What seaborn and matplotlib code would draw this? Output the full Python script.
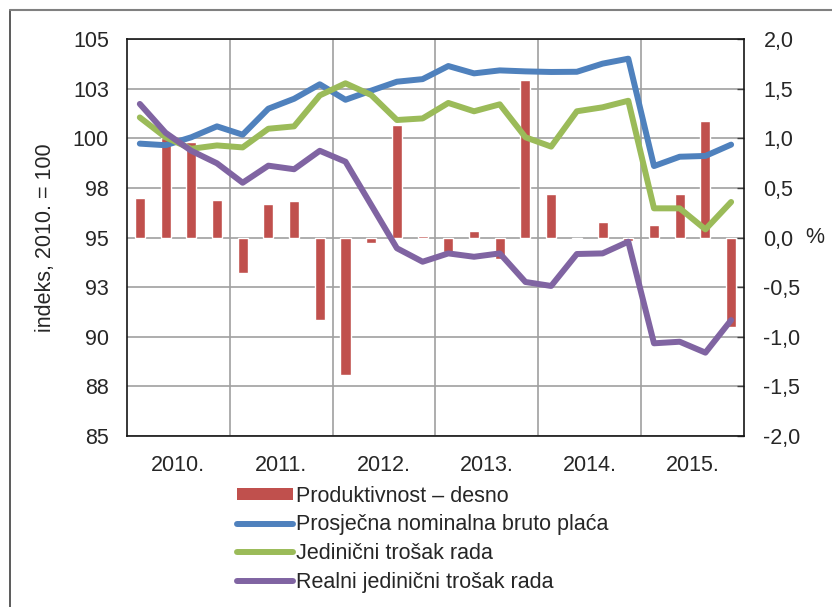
import numpy as np
import pandas as pd
import matplotlib
matplotlib.use("Agg")
import matplotlib.pyplot as plt
from matplotlib.lines import Line2D
from matplotlib.patches import Patch
import matplotlib.ticker as mticker
import seaborn as sns

# Quarterly data 2010 Q1 - 2015 Q4
years = ["2010.", "2011.", "2012.", "2013.", "2014.", "2015."]
quarters = [f"{y}Q{q}" for y in years for q in range(1, 5)]

produktivnost = [0.40, 1.00, 0.96, 0.38, -0.36, 0.34, 0.37, -0.83,
                 -1.39, -0.06, 1.13, 0.02, -0.15, 0.07, -0.22, 1.59,
                 0.44, -0.01, 0.16, -0.04, 0.13, 0.44, 1.17, -0.90]
placa = [99.73, 99.65, 100.05, 100.60, 100.18, 101.49, 101.99, 102.72,
         101.94, 102.40, 102.85, 102.98, 103.64, 103.27, 103.42, 103.37,
         103.34, 103.35, 103.76, 104.01, 98.60, 99.07, 99.11, 99.68]
trosak = [101.05, 100.05, 99.47, 99.64, 99.54, 100.48, 100.60, 102.16,
          102.77, 102.18, 100.92, 101.00, 101.78, 101.36, 101.71, 100.05,
          99.58, 101.36, 101.56, 101.89, 96.47, 96.47, 95.41, 96.79]
realni = [101.73, 100.28, 99.37, 98.74, 97.76, 98.62, 98.44, 99.37,
          98.82, 96.64, 94.46, 93.78, 94.20, 94.03, 94.20, 92.76,
          92.56, 94.17, 94.20, 94.79, 89.67, 89.75, 89.20, 90.84]

labels = ["Produktivnost – desno", "Prosječna nominalna bruto plaća",
          "Jedinični trošak rada", "Realni jedinični trošak rada"]
colors = ["#C0504D", "#4F81BD", "#9BBB59", "#8064A2"]

df = pd.DataFrame({"kvartal": quarters, "produktivnost": produktivnost,
                   "placa": placa, "trosak": trosak, "realni": realni})
df["pos"] = np.arange(len(df))

sns.set_theme(style="white")
plt.rcParams["font.family"] = ["Liberation Sans", "DejaVu Sans"]
FS = 15.5
plt.rcParams["font.size"] = FS

fig = plt.figure(figsize=(8.32, 6.07), dpi=100)
ax = fig.add_axes([0.1526, 0.2817, 0.7416, 0.654])

# bars on the right-hand axis (drawn behind)
sns.barplot(data=df, x="kvartal", y="produktivnost", color=colors[0],
            width=0.39, errorbar=None, saturation=1, ax=ax)
ax.set_ylim(-2, 2)
ax.set_xlim(-0.5, 23.5)
ax.set_xticks([1.5, 5.5, 9.5, 13.5, 17.5, 21.5])
ax.set_xticklabels(years)
ax.set_xticks([3.5, 7.5, 11.5, 15.5, 19.5], minor=True)
ax.tick_params(axis="x", which="both", length=0, pad=14, labelsize=FS)
ax.grid(True, axis="y", which="major", color="#A0A0A0", lw=1.2)
ax.grid(True, axis="x", which="minor", color="#A0A0A0", lw=1.2)
ax.grid(False, axis="x", which="major")
ax.set_xlabel("")
ax.set_ylabel("")
for s in ax.spines.values():
    s.set_color("#151515")
    s.set_linewidth(1.2)

# lines on the left-hand axis
ax2 = ax.twinx()
for col, c in zip(["placa", "trosak", "realni"], colors[1:]):
    sns.lineplot(data=df, x="pos", y=col, color=c, lw=4.3, ax=ax2,
                 legend=False, solid_capstyle="round", solid_joinstyle="round")
ax2.set_ylim(85, 105)
ax2.set_xlim(-0.5, 23.5)
ax2.yaxis.tick_left()
ax2.yaxis.set_label_position("left")
ax2.yaxis.set_major_locator(mticker.MultipleLocator(2.5))
ax2.yaxis.set_major_formatter(mticker.FuncFormatter(
    lambda v, p: f"{int(np.floor(v + 0.5))}"))
ax2.tick_params(axis="y", left=True, right=False, labelleft=True,
                labelright=False, length=0, pad=13, labelsize=FS)
ax2.set_ylabel("indeks, 2010. = 100", fontsize=FS, labelpad=12)
ax2.set_xlabel("")
ax2.grid(False)
for s in ax2.spines.values():
    s.set_visible(False)

# right-hand axis ticks for the bars (after twinx)
ax.yaxis.set_major_locator(mticker.MultipleLocator(0.5))
ax.yaxis.set_major_formatter(mticker.FuncFormatter(
    lambda v, p: f"{v:.1f}".replace(".", ",").replace("-0,0", "0,0")))
ax.tick_params(axis="y", left=False, labelleft=False, right=True,
               labelright=True, direction="in", length=5, width=1,
               color="#404040", pad=14, labelsize=FS)
ax.text(1.1, 0.5, "%", transform=ax.transAxes, fontsize=FS,
        ha="left", va="center")

handles = [Patch(facecolor=colors[0], edgecolor="none")] + \
          [Line2D([], [], color=c, lw=4.3, solid_capstyle="round") for c in colors[1:]]
fig.legend(handles, labels, loc="upper left", bbox_to_anchor=(0.274, 0.214),
           frameon=False, fontsize=FS, handlelength=2.6, handleheight=0.5,
           handletextpad=0.15, labelspacing=0.36, borderaxespad=0)

# outer frame of the figure panel
fig.add_artist(Line2D([10 / 832, 10 / 832], [0, 1 - 10 / 607],
                      transform=fig.transFigure, color="#404040", lw=1.2))
fig.add_artist(Line2D([10 / 832, 1], [1 - 10 / 607, 1 - 10 / 607],
                      transform=fig.transFigure, color="#808080", lw=1.5))

fig.savefig("out.png", dpi=100)
